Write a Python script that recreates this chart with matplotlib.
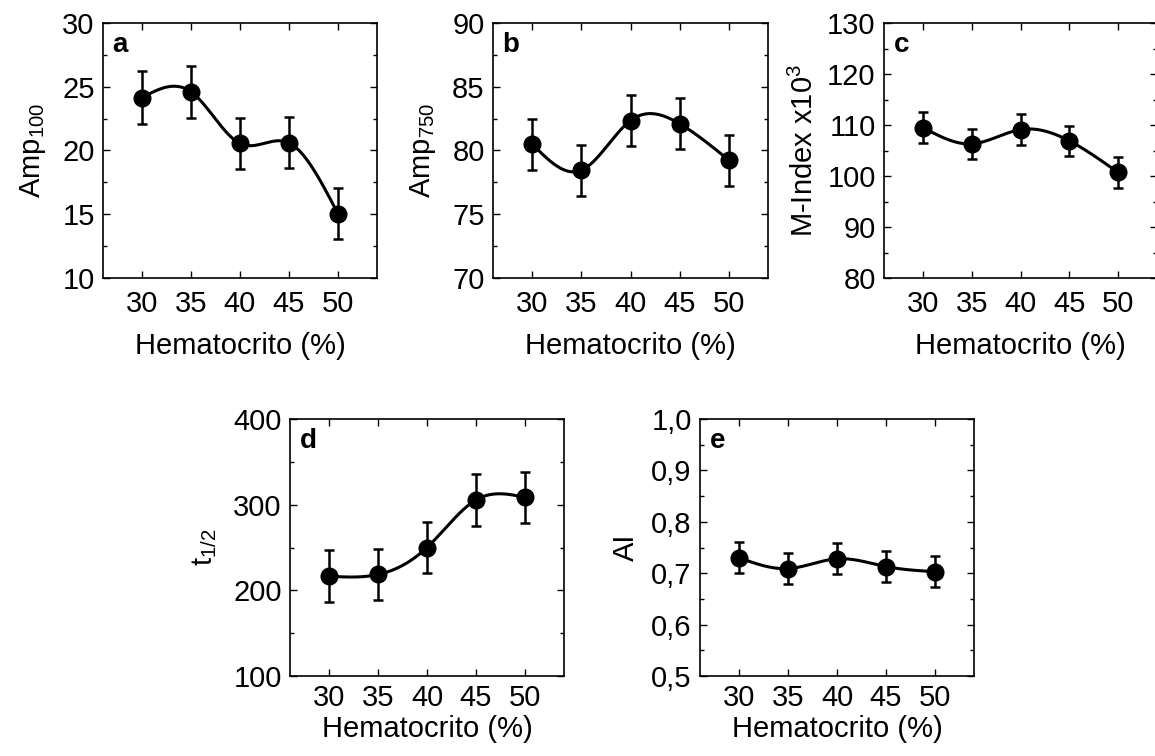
import numpy as np
import matplotlib
matplotlib.use("Agg")
import matplotlib.pyplot as plt
from matplotlib.ticker import MultipleLocator

plt.rcParams['font.family'] = ['Liberation Sans', 'DejaVu Sans']
plt.rcParams['mathtext.default'] = 'regular'

# data
hct = [30, 35, 40, 45, 50]

amp100 = [24.15, 24.6, 20.55, 20.6, 15.05]
amp100_err = [2.05, 2.05, 2.0, 2.0, 2.0]

amp750 = [80.5, 78.45, 82.35, 82.1, 79.25]
amp750_err = [2.0, 2.0, 2.0, 2.0, 2.0]

mindex = [109.5, 106.3, 109.1, 106.9, 100.7]
mindex_err = [3.0, 3.0, 3.0, 3.0, 3.0]

t_half = [216.5, 218.5, 250, 305.5, 308.5]
t_half_err = [30, 30, 30, 30, 30]

ai = [0.730, 0.709, 0.728, 0.713, 0.703]
ai_err = [0.03, 0.03, 0.03, 0.03, 0.03]


def natural_spline(x, y, n=200):
    x = np.asarray(x, float)
    y = np.asarray(y, float)
    k = len(x)
    h = np.diff(x)
    A = np.zeros((k, k))
    b = np.zeros(k)
    A[0, 0] = A[-1, -1] = 1
    for i in range(1, k - 1):
        A[i, i - 1] = h[i - 1]
        A[i, i] = 2 * (h[i - 1] + h[i])
        A[i, i + 1] = h[i]
        b[i] = 6 * ((y[i + 1] - y[i]) / h[i] - (y[i] - y[i - 1]) / h[i - 1])
    M = np.linalg.solve(A, b)
    xs = np.linspace(x[0], x[-1], n)
    ys = np.empty_like(xs)
    for j, xv in enumerate(xs):
        i = min(np.searchsorted(x, xv, side='right') - 1, k - 2)
        t1 = x[i + 1] - xv
        t0 = xv - x[i]
        ys[j] = (M[i] * t1**3 + M[i + 1] * t0**3) / (6 * h[i]) \
            + (y[i] / h[i] - M[i] * h[i] / 6) * t1 \
            + (y[i + 1] / h[i] - M[i + 1] * h[i] / 6) * t0
    return xs, ys


W, H = 1155, 756
fig = plt.figure(figsize=(W / 100, H / 100), dpi=100)


def panel(px, top, bottom, vals, errs, ylim, ymaj, ylabel, letter,
          tpad, xpad, ypad=10, fmt=None):
    ax = fig.add_axes([px[0] / W, 1 - bottom / H, (px[1] - px[0]) / W, (bottom - top) / H])
    xs, ys = natural_spline(hct, vals)
    ax.plot(xs, ys, color='black', lw=2.2, zorder=2)
    ax.errorbar(hct, vals, yerr=errs, fmt='o', color='black', ms=12,
                elinewidth=1.8, capsize=3.3, capthick=1.8, zorder=3)
    ax.set_xlim(26, 54)
    ax.set_ylim(*ylim)
    ax.set_xticks(hct)
    ax.yaxis.set_major_locator(MultipleLocator(ymaj))
    ax.yaxis.set_minor_locator(MultipleLocator(ymaj / 2))
    if fmt:
        ax.yaxis.set_major_formatter(fmt)
    ax.tick_params(which='both', direction='in', top=True, right=True,
                   labelsize=21, width=1)
    ax.tick_params(which='major', length=5)
    ax.tick_params(axis='x', which='major', pad=tpad)
    ax.tick_params(axis='y', which='major', pad=6)
    ax.tick_params(which='minor', length=3)
    for s in ax.spines.values():
        s.set_linewidth(1.2)
    ax.set_xlabel('Hematocrito (%)', fontsize=21, labelpad=xpad)
    ax.set_ylabel(ylabel, fontsize=21, labelpad=ypad)
    ax.text(0.035, 0.915, letter, transform=ax.transAxes, fontsize=20,
            fontweight='bold', va='center', ha='left')
    return ax


panel((103, 377), 23, 278, amp100, amp100_err, (10, 30), 5, 'Amp$_{100}$', 'a', 9, 10)
panel((493, 768), 23, 278, amp750, amp750_err, (70, 90), 5, 'Amp$_{750}$', 'b', 9, 10)
panel((884, 1157), 23, 278, mindex, mindex_err, (80, 130), 10, 'M-Index x10$^{3}$', 'c', 9, 10,
      ypad=6)
panel((290, 564), 419, 676, t_half, t_half_err, (100, 400), 100, 't$_{1/2}$', 'd', 6, 2)
panel((700, 974), 419, 676, ai, ai_err, (0.5, 1.0), 0.1, 'AI', 'e', 6, 2, ypad=8,
      fmt=lambda v, p: f'{v:.1f}'.replace('.', ','))

fig.savefig('out.png', dpi=100)
